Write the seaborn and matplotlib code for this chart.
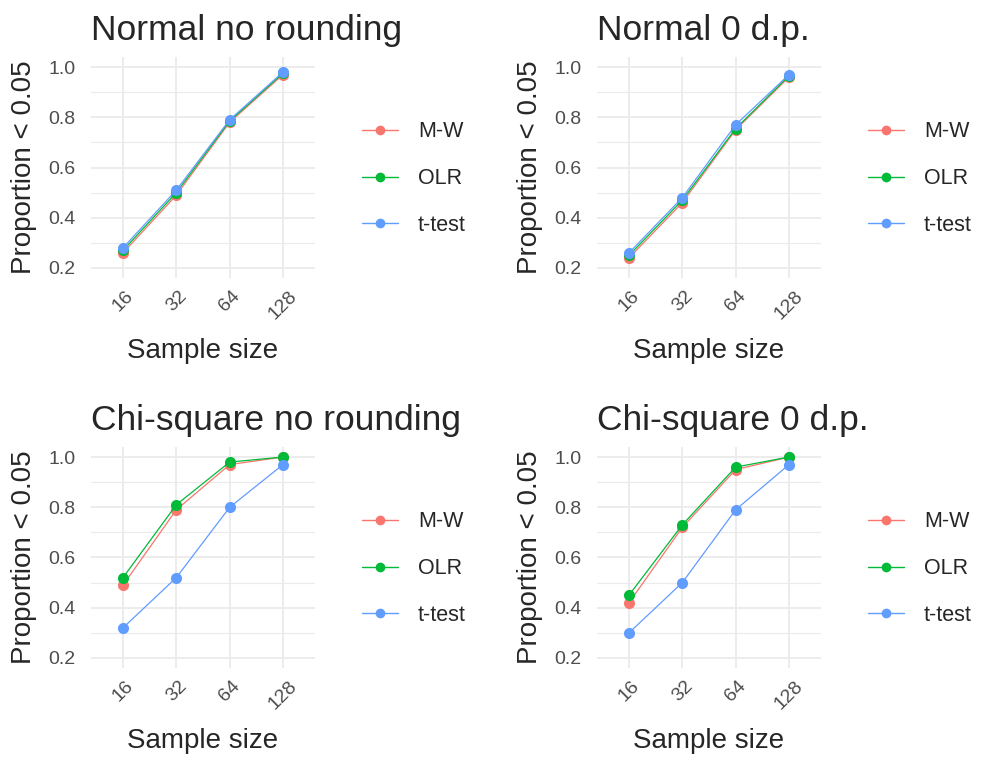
import numpy as np
import pandas as pd
import seaborn as sns
import matplotlib.pyplot as plt
import matplotlib.transforms as mtransforms
from matplotlib.lines import Line2D

sizes = ["16", "32", "64", "128"]
tests = ["M-W", "OLR", "t-test"]
colors = ["#F8766D", "#00BA38", "#619CFF"]

titles = ["Normal no rounding", "Normal 0 d.p.", "Chi-square no rounding", "Chi-square 0 d.p."]

normal_raw_mw = [0.26, 0.49, 0.78, 0.97]
normal_raw_olr = [0.27, 0.50, 0.785, 0.975]
normal_raw_t = [0.28, 0.51, 0.79, 0.98]

normal_0dp_mw = [0.24, 0.46, 0.75, 0.96]
normal_0dp_olr = [0.25, 0.47, 0.755, 0.965]
normal_0dp_t = [0.26, 0.48, 0.77, 0.97]

chisq_raw_mw = [0.49, 0.79, 0.97, 1.00]
chisq_raw_olr = [0.52, 0.81, 0.98, 1.00]
chisq_raw_t = [0.32, 0.52, 0.80, 0.97]

chisq_0dp_mw = [0.42, 0.72, 0.95, 1.00]
chisq_0dp_olr = [0.45, 0.73, 0.96, 1.00]
chisq_0dp_t = [0.30, 0.50, 0.79, 0.97]

panels = [
    [normal_raw_mw, normal_raw_olr, normal_raw_t],
    [normal_0dp_mw, normal_0dp_olr, normal_0dp_t],
    [chisq_raw_mw, chisq_raw_olr, chisq_raw_t],
    [chisq_0dp_mw, chisq_0dp_olr, chisq_0dp_t],
]

sns.set_theme(style="white")
plt.rcParams["font.family"] = ["Liberation Sans", "DejaVu Sans"]

fig = plt.figure(figsize=(9.84, 7.6), dpi=100)
W, H = 984, 760

# axes boxes in pixels: left, top, right, bottom
boxes = [(91, 57, 315, 278), (597, 57, 821, 278),
         (91, 447, 315, 668), (597, 447, 821, 668)]

for i, (title, vals) in enumerate(zip(titles, panels)):
    l, t, r, b = boxes[i]
    ax = fig.add_axes([l / W, 1 - b / H, (r - l) / W, (b - t) / H])
    rows = []
    for test, v in zip(tests, vals):
        for xi, (s, y) in enumerate(zip(sizes, v)):
            rows.append({"x": xi, "size": s, "test": test, "p": y})
    df = pd.DataFrame(rows)
    sns.lineplot(data=df, x="x", y="p", hue="test", palette=colors,
                 marker="o", markersize=8, markeredgewidth=0, linewidth=0.9,
                 legend=False, ax=ax)

    ax.set_ylim(0.16, 1.04)
    ax.set_xlim(-0.6, 3.6)
    ax.set_xticks(range(4))
    ax.set_xticklabels(sizes, rotation=45, color="#4D4D4D", fontsize=14)
    offset = mtransforms.ScaledTranslation(7 / 100, 0, fig.dpi_scale_trans)
    for lab in ax.get_xticklabels():
        lab.set_transform(lab.get_transform() + offset)
    ax.set_yticks([0.2, 0.4, 0.6, 0.8, 1.0])
    ax.set_yticklabels(["0.2", "0.4", "0.6", "0.8", "1.0"], color="#4D4D4D", fontsize=14)
    ax.set_yticks([0.3, 0.5, 0.7, 0.9], minor=True)
    ax.grid(True, which="major", color="#EBEBEB", linewidth=1.3)
    ax.grid(True, which="minor", axis="y", color="#EBEBEB", linewidth=0.8)
    ax.set_axisbelow(True)
    for sp in ax.spines.values():
        sp.set_visible(False)
    ax.tick_params(axis="y", length=0, pad=11)
    ax.tick_params(axis="x", length=0, pad=7)
    ax.tick_params(which="minor", length=0)
    ax.set_title(title, loc="left", fontsize=25.5, pad=12, x=0.0)
    ax.set_xlabel("Sample size", fontsize=20)
    ax.xaxis.set_label_coords(0.5, -0.27)
    ax.set_ylabel("Proportion < 0.05", fontsize=20)
    ax.yaxis.set_label_coords(-0.243, 0.5)

    handles = [Line2D([0], [0], color=c, marker="o", markersize=7, markeredgewidth=0, linewidth=1)
               for c in colors]
    ax.legend(handles, tests, loc="center left", bbox_to_anchor=(1.123, 0.45),
              frameon=False, fontsize=15.5, labelspacing=1.2, handlelength=1.67,
              handletextpad=0.93)

fig.savefig("out.png", dpi=100, facecolor="white")
